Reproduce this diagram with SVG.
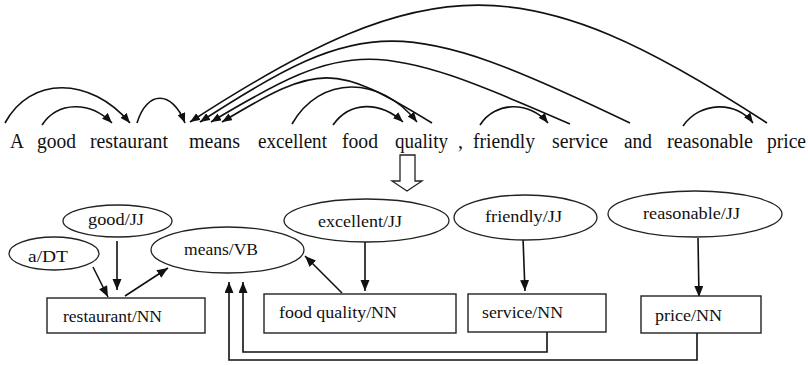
<svg xmlns="http://www.w3.org/2000/svg" width="808" height="365" viewBox="0 0 808 365">
  <style>
    text { font-family: "Liberation Serif", "Times New Roman", serif; fill: #111; }
    .word { font-size: 20px; }
    .lbl { font-size: 17px; }
    .arc { fill: none; stroke: #111; stroke-width: 1.6; marker-end: url(#ah); }
    .edge { fill: none; stroke: #111; stroke-width: 1.6; marker-end: url(#ah2); }
    .ell { fill: #fff; stroke: #222; stroke-width: 1.3; }
    .box { fill: #fff; stroke: #222; stroke-width: 1.4; }
  </style>
  <defs>
    <marker id="ah" markerUnits="userSpaceOnUse" markerWidth="11" markerHeight="8" refX="10" refY="4" orient="auto">
      <path d="M0,0 L10,4 L0,8 z" fill="#111"/>
    </marker>
    <marker id="ah2" markerUnits="userSpaceOnUse" markerWidth="12" markerHeight="10" refX="11" refY="4.5" orient="auto">
      <path d="M0,0 L11,4.5 L0,9 z" fill="#111"/>
    </marker>
  </defs>
  <rect width="808" height="365" fill="#fff"/>

  <!-- sentence -->
  <g id="sentence">
    <text class="word" x="10" y="148" textLength="14" lengthAdjust="spacingAndGlyphs">A</text>
    <text class="word" x="37" y="148" textLength="39" lengthAdjust="spacingAndGlyphs">good</text>
    <text class="word" x="90" y="148" textLength="78" lengthAdjust="spacingAndGlyphs">restaurant</text>
    <text class="word" x="189" y="148" textLength="51" lengthAdjust="spacingAndGlyphs">means</text>
    <text class="word" x="258" y="148" textLength="69" lengthAdjust="spacingAndGlyphs">excellent</text>
    <text class="word" x="342" y="148" textLength="36" lengthAdjust="spacingAndGlyphs">food</text>
    <text class="word" x="395" y="148" textLength="53" lengthAdjust="spacingAndGlyphs">quality</text>
    <text class="word" x="458" y="148">,</text>
    <text class="word" x="473" y="148" textLength="62" lengthAdjust="spacingAndGlyphs">friendly</text>
    <text class="word" x="552" y="148" textLength="56" lengthAdjust="spacingAndGlyphs">service</text>
    <text class="word" x="624" y="148" textLength="28" lengthAdjust="spacingAndGlyphs">and</text>
    <text class="word" x="667" y="148" textLength="86" lengthAdjust="spacingAndGlyphs">reasonable</text>
    <text class="word" x="767" y="148" textLength="39" lengthAdjust="spacingAndGlyphs">price</text>
  </g>

  <!-- dependency arcs over the sentence -->
  <g id="dependency-arcs">
    <path class="arc" d="M5,123 C30,76 90,76 130,123"/>
    <path class="arc" d="M42,125 C58,101 90,101 112,123"/>
    <path class="arc" d="M137,123 C147,90 172,90 185,123"/>
    <path class="arc" d="M767,123 C527,-34 430,-34 190,122"/>
    <path class="arc" d="M630,123 C403,14 366,14 200,122"/>
    <path class="arc" d="M570,124 C374,38 351,38 211,122"/>
    <path class="arc" d="M432,123 C334,63 320,63 222,122"/>
    <path class="arc" d="M292,124 C320,75 380,75 417,122"/>
    <path class="arc" d="M333,125 C350,101 380,101 403,122"/>
    <path class="arc" d="M480,125 C495,101 530,101 548,123"/>
    <path class="arc" d="M683,126 C700,101 737,101 753,123"/>
  </g>

  <!-- hollow transition arrow -->
  <g id="transform-arrow">
    <polygon points="400,155 415,155 415,181 422,181 407,191 392,181 400,181" fill="#fff" stroke="#222" stroke-width="1.3"/>
  </g>

  <!-- tree connectors -->
  <g id="connectors">
    <path class="edge" d="M93,267 L108,297"/>
    <path class="edge" d="M117,241 L117,290"/>
    <path class="edge" d="M125,296 L168,268"/>
    <path class="edge" d="M342,293 L305,256"/>
    <path class="edge" d="M365,242 L365,291"/>
    <path class="edge" d="M523,238 L525,291"/>
    <path class="edge" d="M698,238 L699,297"/>
    <path class="edge" d="M547,332 V352 H243 V282"/>
    <path class="edge" d="M697,333 V360 H229 V282"/>
  </g>

  <!-- nodes -->
  <g id="node-a">
    <ellipse class="ell" cx="54" cy="253.5" rx="45" ry="16.5"/>
    <text class="lbl" x="28" y="262" textLength="40" lengthAdjust="spacingAndGlyphs">a/DT</text>
  </g>
  <g id="node-good">
    <ellipse class="ell" cx="117.5" cy="221" rx="54.5" ry="16"/>
    <text class="lbl" x="88" y="225" textLength="56" lengthAdjust="spacingAndGlyphs">good/JJ</text>
  </g>
  <g id="node-means">
    <ellipse class="ell" cx="227.5" cy="250" rx="76.5" ry="23"/>
    <text class="lbl" x="184" y="255" textLength="74" lengthAdjust="spacingAndGlyphs">means/VB</text>
  </g>
  <g id="node-excellent">
    <ellipse class="ell" cx="366.5" cy="220.5" rx="82.5" ry="21.5"/>
    <text class="lbl" x="318" y="227" textLength="84" lengthAdjust="spacingAndGlyphs">excellent/JJ</text>
  </g>
  <g id="node-friendly">
    <ellipse class="ell" cx="525.5" cy="217.5" rx="71.5" ry="22.5"/>
    <text class="lbl" x="485" y="222" textLength="77" lengthAdjust="spacingAndGlyphs">friendly/JJ</text>
  </g>
  <g id="node-reasonable">
    <ellipse class="ell" cx="695" cy="214" rx="87" ry="23"/>
    <text class="lbl" x="643" y="219" textLength="97" lengthAdjust="spacingAndGlyphs">reasonable/JJ</text>
  </g>
  <g id="node-restaurant">
    <rect class="box" x="47" y="298" width="158" height="35"/>
    <text class="lbl" x="63" y="322" textLength="99" lengthAdjust="spacingAndGlyphs">restaurant/NN</text>
  </g>
  <g id="node-food-quality">
    <rect class="box" x="264" y="294" width="192" height="39"/>
    <text class="lbl" x="279" y="318" textLength="118" lengthAdjust="spacingAndGlyphs">food quality/NN</text>
  </g>
  <g id="node-service">
    <rect class="box" x="468" y="294" width="138" height="38"/>
    <text class="lbl" x="482" y="318" textLength="81" lengthAdjust="spacingAndGlyphs">service/NN</text>
  </g>
  <g id="node-price">
    <rect class="box" x="641" y="296" width="120" height="37"/>
    <text class="lbl" x="655" y="321" textLength="67" lengthAdjust="spacingAndGlyphs">price/NN</text>
  </g>
</svg>
